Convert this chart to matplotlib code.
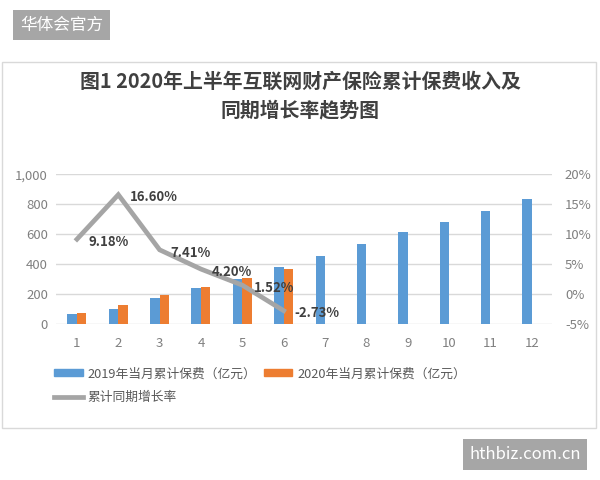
import matplotlib.pyplot as plt
from matplotlib.patches import Patch, Rectangle
from matplotlib.lines import Line2D
from matplotlib.ticker import FuncFormatter

plt.rcParams['font.family'] = ['Noto Sans CJK SC', 'DejaVu Sans']

months = [1, 2, 3, 4, 5, 6, 7, 8, 9, 10, 11, 12]
premium_2019 = [67, 104, 177, 240, 300, 380, 457, 533, 613, 680, 757, 837]
premium_2020 = [77, 129, 193, 251, 307, 371]
growth = [9.18, 16.60, 7.41, 4.20, 1.52, -2.73]
growth_labels = ["9.18%", "16.60%", "7.41%", "4.20%", "1.52%", "-2.73%"]

title = "图1 2020年上半年互联网财产保险累计保费收入及\n同期增长率趋势图"
name_2019 = "2019年当月累计保费（亿元）"
name_2020 = "2020年当月累计保费（亿元）"
name_growth = "累计同期增长率"

BLUE = "#5B9BD5"
ORANGE = "#ED7D31"
GRAY = "#A5A5A5"
TXT = "#808080"

fig = plt.figure(figsize=(6, 4.8), dpi=100)

# chart frame
fig.patches.append(Rectangle((0.003, 0.108), 0.99, 0.763, transform=fig.transFigure,
                             fill=False, edgecolor="#D9D9D9", linewidth=1))

ax = fig.add_axes([0.0938, 0.3244, 0.8269, 0.3125])
w = 0.23
ax.bar([m - w / 2 for m in months], premium_2019, width=w, color=BLUE, zorder=2)
ax.bar([m + w / 2 for m in months[:len(premium_2020)]], premium_2020, width=w,
       color=ORANGE, zorder=2)
ax.set_xlim(0.5, 12.5)
ax.set_ylim(0, 1000)
ax.set_yticks(range(0, 1001, 200))
ax.yaxis.set_major_formatter(FuncFormatter(lambda v, p: f"{int(v):,}"))
ax.set_xticks(months)
ax.grid(axis="y", color="#D9D9D9", linewidth=1, zorder=0)
for s in ax.spines.values():
    s.set_visible(False)
ax.tick_params(length=0, labelsize=9.5, labelcolor=TXT)
ax.tick_params(axis="x", pad=9)
ax.tick_params(axis="y", pad=6)

ax2 = ax.twinx()
ax2.plot(months[:len(growth)], growth, color=GRAY, linewidth=3.4, solid_joinstyle="miter")
ax2.set_ylim(-5, 20)
ax2.set_yticks(range(-5, 21, 5))
ax2.yaxis.set_major_formatter(FuncFormatter(lambda v, p: f"{int(v)}%"))
for s in ax2.spines.values():
    s.set_visible(False)
ax2.tick_params(length=0, labelsize=9.5, labelcolor=TXT, pad=9)
for m, g, lab in zip(months, growth, growth_labels):
    ax2.annotate(lab, (m, g), xytext=(8, -2), textcoords="offset points",
                 ha="left", va="center", fontsize=9.5, fontweight="bold", color="#404040")

fig.text(0.5, 0.80, title, ha="center", va="center", fontsize=14.3, fontweight="bold",
         color="#404040", linespacing=1.45)

handles = [Patch(color=BLUE), Line2D([], [], color=GRAY, linewidth=3.4), Patch(color=ORANGE)]
labels = [name_2019, name_growth, name_2020]
fig.legend(handles, labels, ncol=2, loc="upper left", bbox_to_anchor=(0.08, 0.248),
           frameon=False, fontsize=9.2, labelcolor="#595959", handlelength=2.2,
           handleheight=0.5, handletextpad=0.4, columnspacing=0.6, labelspacing=0.85,
           borderpad=0)

fig.text(0.0335, 0.948, "华体会官方", ha="left", va="center", fontsize=12, color="white",
         bbox=dict(boxstyle="square,pad=0.4", facecolor="#A6A6A6", edgecolor="none"))
fig.text(0.968, 0.053, "hthbiz.com.cn", ha="right", va="center", fontsize=12, color="white",
         bbox=dict(boxstyle="square,pad=0.4", facecolor="#A6A6A6", edgecolor="none"))

fig.savefig("out.png", dpi=100)
